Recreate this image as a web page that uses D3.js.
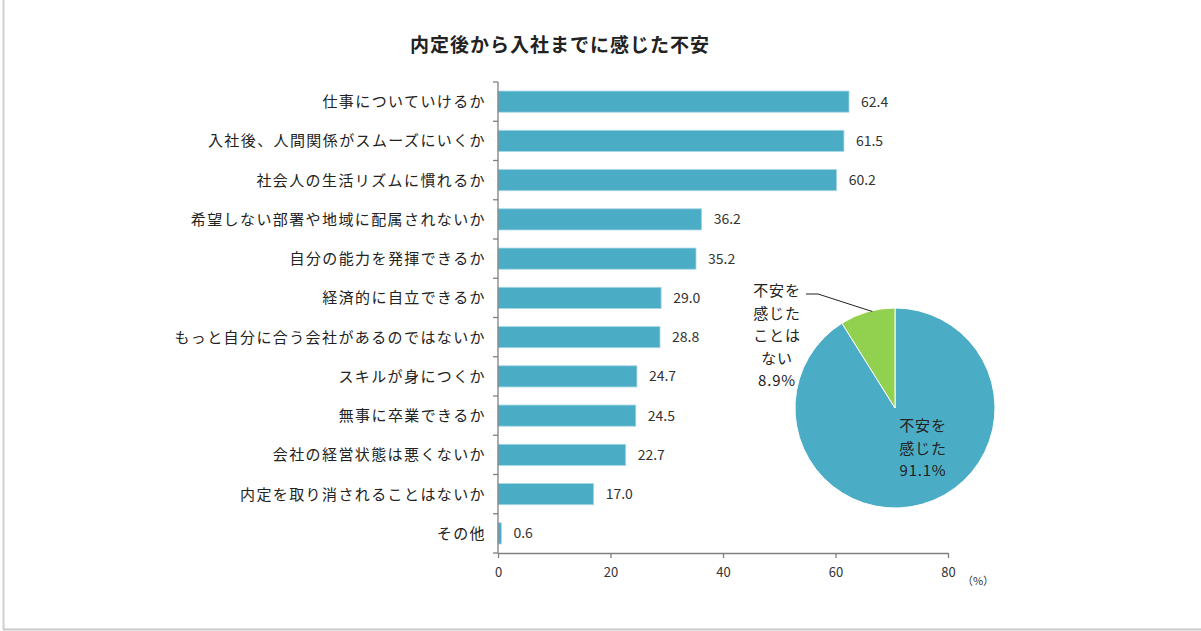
<!DOCTYPE html>
<html><head><meta charset="utf-8">
<script src="https://cdn.jsdelivr.net/npm/d3@7"></script>
<style>
body{margin:0;background:#fff;}
svg{display:block;font-family:"Noto Sans CJK JP","Noto Sans",sans-serif;}
</style></head>
<body>
<svg id="c" width="1201" height="631"></svg>
<script>
const categories = ["仕事についていけるか","入社後、人間関係がスムーズにいくか","社会人の生活リズムに慣れるか","希望しない部署や地域に配属されないか","自分の能力を発揮できるか","経済的に自立できるか","もっと自分に合う会社があるのではないか","スキルが身につくか","無事に卒業できるか","会社の経営状態は悪くないか","内定を取り消されることはないか","その他"];
const values = [62.4,61.5,60.2,36.2,35.2,29.0,28.8,24.7,24.5,22.7,17.0,0.6];
const xTicks = [0,20,40,60,80];
const pieLabels = [["不安を","感じた","91.1%"],["不安を","感じた","ことは","ない","8.9%"]];
const pieValues = [91.1, 8.9];
const pieColors = ["#4BACC6","#92D050"];

const svg = d3.select("#c");
// frame lines
svg.append("line").attr("x1",3.5).attr("x2",3.5).attr("y1",0).attr("y2",629).attr("stroke","#d0d0d0").attr("stroke-width",2);
svg.append("line").attr("x1",3).attr("x2",1201).attr("y1",629.5).attr("y2",629.5).attr("stroke","#c8c8c8").attr("stroke-width",2);

svg.append("text").attr("x",560).attr("y",52).attr("text-anchor","middle")
  .attr("font-size",19).attr("letter-spacing",1).attr("font-weight","bold").attr("fill","#222").text("内定後から入社までに感じた不安");

const x = d3.scaleLinear().domain([0,80]).range([498,948]);
const y = d3.scaleBand().domain(categories).range([82,553]).paddingInner(0.46).paddingOuter(0.23);

svg.append("g").selectAll("rect").data(values).join("rect")
  .attr("x",x(0)).attr("y",(d,i)=>y(categories[i]))
  .attr("width",d=>x(d)-x(0)).attr("height",y.bandwidth())
  .attr("fill","#4BACC6").attr("stroke","#a9d8e6").attr("stroke-width",0.8);

svg.append("g").selectAll("text").data(values).join("text")
  .attr("x",d=>x(d)+12).attr("y",(d,i)=>y(categories[i])+y.bandwidth()/2)
  .attr("dy","0.36em").attr("font-size",14).attr("fill","#333")
  .text(d=>d.toFixed(1));

svg.append("g").selectAll("text").data(categories).join("text")
  .attr("x",486).attr("y",d=>y(d)+y.bandwidth()/2).attr("dy","0.36em")
  .attr("text-anchor","end").attr("font-size",15).attr("letter-spacing",1.4).attr("fill","#222").text(d=>d);

// y axis line with category boundary ticks
const yAxis = svg.append("g").attr("stroke","#808080").attr("stroke-width",1.3);
yAxis.append("line").attr("x1",498).attr("x2",498).attr("y1",82).attr("y2",553);
categories.forEach((c,i)=>{
  const yy = 82 + i*(471/categories.length);
  yAxis.append("line").attr("x1",493).attr("x2",498).attr("y1",yy).attr("y2",yy);
});

// x axis
const xa = svg.append("g").attr("transform","translate(0,553)")
  .call(d3.axisBottom(x).tickValues(xTicks).tickSize(5).tickSizeOuter(0));
xa.select(".domain").attr("stroke","#808080").attr("stroke-width",1.3);
xa.selectAll(".tick line").attr("stroke","#808080").attr("stroke-width",1.3);
xa.selectAll(".tick text").attr("font-size",13).attr("fill","#333").attr("dy","1.2em")
  .attr("font-family","\"Noto Sans CJK JP\",sans-serif");
svg.append("line").attr("x1",493).attr("x2",498).attr("y1",553).attr("y2",553).attr("stroke","#808080").attr("stroke-width",1.3);
svg.append("text").attr("x",978).attr("y",585).attr("text-anchor","middle").attr("font-size",11).attr("fill","#333").text("（%）");

// pie
const cx = 895, cy = 408, r = 100;
const pie = d3.pie().sort(null)(pieValues);
const arc = d3.arc().innerRadius(0).outerRadius(r);
const pg = svg.append("g").attr("transform",`translate(${cx},${cy})`);
pg.selectAll("path").data(pie).join("path").attr("d",arc)
  .attr("fill",(d,i)=>pieColors[i]).attr("stroke","#fff").attr("stroke-width",1);

const lab1 = svg.append("text").attr("text-anchor","middle").attr("font-size",15).attr("letter-spacing",0.8).attr("fill","#222");
pieLabels[0].forEach((t,i)=>lab1.append("tspan").attr("x",923).attr("y",431+i*22.5).text(t));
const lab2 = svg.append("text").attr("text-anchor","middle").attr("font-size",15).attr("letter-spacing",0.8).attr("fill","#222");
pieLabels[1].forEach((t,i)=>lab2.append("tspan").attr("x",777).attr("y",296+i*22.5).text(t));

// leader line
const mid = pie[1].startAngle + (pie[1].endAngle - pie[1].startAngle)*0.6;
const ex = cx + Math.sin(mid)*(r+2), ey = cy - Math.cos(mid)*(r+2);
svg.append("polyline").attr("points",`806,294 818,294 ${ex},${ey+3}`)
  .attr("fill","none").attr("stroke","#222").attr("stroke-width",1);
</script>
</body></html>
